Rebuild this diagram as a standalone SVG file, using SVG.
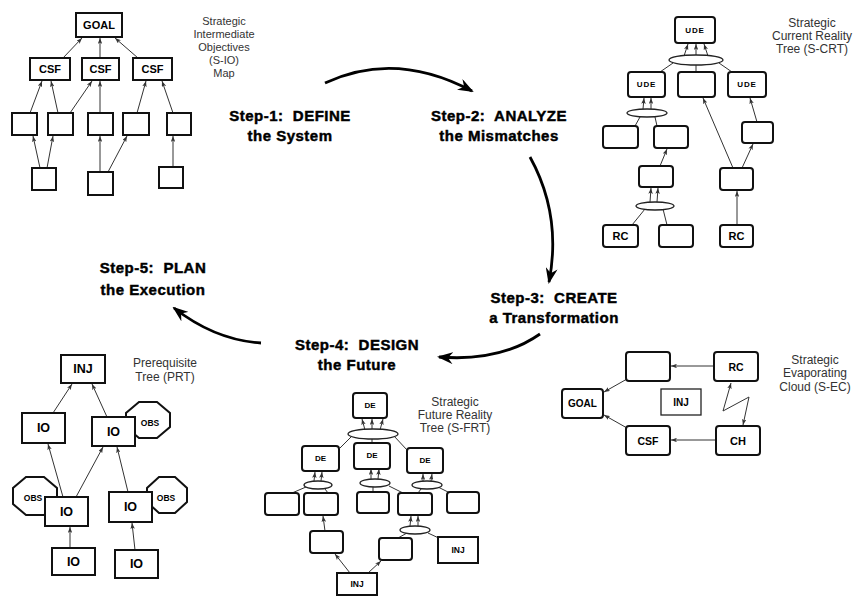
<svg xmlns="http://www.w3.org/2000/svg" width="862" height="597" viewBox="0 0 862 597">
<defs>
<style>
.bx{fill:#fff;stroke:#111;stroke-width:2}
.bt{fill:#fff;stroke:#222;stroke-width:1.3}
.el{fill:#fff;stroke:#222;stroke-width:1.3}
.ca{fill:none;stroke:#333;stroke-width:1;marker-end:url(#sm)}
.cl{fill:none;stroke:#333;stroke-width:1}
.big{fill:none;stroke:#000;stroke-width:2.8;marker-end:url(#bg)}
.st{font-family:"Liberation Sans",Arial,sans-serif;font-weight:bold;font-size:15px;letter-spacing:0.5px;fill:#000;stroke:#000;stroke-width:0.45px;text-anchor:middle;white-space:pre}
.ds{font-family:"Liberation Sans",Arial,sans-serif;font-size:12px;fill:#333;text-anchor:middle}
.lb{font-family:"Liberation Sans",Arial,sans-serif;font-weight:bold;fill:#000;text-anchor:middle;dominant-baseline:central}
</style>
<marker id="sm" viewBox="0 0 8 6" refX="8" refY="3" markerWidth="6" markerHeight="4.5" orient="auto" markerUnits="userSpaceOnUse"><path d="M0,0 L8,3 L0,6 L2,3 z" fill="#333"/></marker>
<marker id="sm2" viewBox="0 0 8 6" refX="8" refY="3" markerWidth="6" markerHeight="4.5" orient="auto-start-reverse" markerUnits="userSpaceOnUse"><path d="M0,0 L8,3 L0,6 L2,3 z" fill="#333"/></marker>
<marker id="bg" viewBox="0 0 16 12" refX="14" refY="6" markerWidth="16" markerHeight="12" orient="auto" markerUnits="userSpaceOnUse"><path d="M0,0 L16,6 L0,12 L5,6 z" fill="#000"/></marker>
</defs>
<rect width="862" height="597" fill="#fff"/>

<!-- Step arrows -->
<g id="cycle-arrows">
<path class="big" d="M325,83 Q395,50 472,91"/>
<path class="big" d="M530,157 Q562,215 549,282"/>
<path class="big" d="M540,334 Q500,362 439,357"/>
<path class="big" d="M261,343 Q215,340 174,308"/>
</g>

<!-- Step labels -->
<g id="step1"><text class="st" x="290" y="121">Step-1:  DEFINE</text><text class="st" x="290" y="141">the System</text></g>
<g id="step2"><text class="st" x="499" y="121">Step-2:  ANALYZE</text><text class="st" x="499" y="141">the Mismatches</text></g>
<g id="step3"><text class="st" x="554" y="303">Step-3:  CREATE</text><text class="st" x="554" y="323">a Transformation</text></g>
<g id="step4"><text class="st" x="357" y="350">Step-4:  DESIGN</text><text class="st" x="357" y="370">the Future</text></g>
<g id="step5"><text class="st" x="153" y="273">Step-5:  PLAN</text><text class="st" x="153" y="295">the Execution</text></g>

<!-- ===== S-IO Map ===== -->
<g id="sio-connectors">
<path class="ca" d="M63,58 L82,38"/>
<path class="ca" d="M100,58 L100,38"/>
<path class="ca" d="M138,58 L115,38"/>
<path class="ca" d="M30,113 L42,81"/>
<path class="ca" d="M58,113 L51,81"/>
<path class="ca" d="M70,113 L92,81"/>
<path class="ca" d="M100,113 L100,81"/>
<path class="ca" d="M137,113 L146,81"/>
<path class="ca" d="M173,113 L162,81"/>
<path class="ca" d="M40,168 L33,136"/>
<path class="ca" d="M47,168 L53,136"/>
<path class="ca" d="M100,172 L100,136"/>
<path class="ca" d="M108,172 L127,136"/>
<path class="ca" d="M173,167 L173,136"/>
</g>
<g id="sio-goal"><rect class="bx" x="76" y="13" width="46" height="24"/><text class="lb" x="99" y="25" font-size="11">GOAL</text></g>
<g id="sio-csf1"><rect class="bx" x="30" y="58" width="40" height="22"/><text class="lb" x="50" y="69" font-size="11">CSF</text></g>
<g id="sio-csf2"><rect class="bx" x="82" y="58" width="37" height="22"/><text class="lb" x="100.5" y="69" font-size="11">CSF</text></g>
<g id="sio-csf3"><rect class="bx" x="133" y="58" width="39" height="22"/><text class="lb" x="152.5" y="69" font-size="11">CSF</text></g>
<g id="sio-m1"><rect class="bx" x="12" y="113" width="25" height="22"/></g>
<g id="sio-m2"><rect class="bx" x="48" y="113" width="25" height="22"/></g>
<g id="sio-m3"><rect class="bx" x="88" y="113" width="25" height="22"/></g>
<g id="sio-m4"><rect class="bx" x="123" y="113" width="26" height="22"/></g>
<g id="sio-m5"><rect class="bx" x="167" y="113" width="24" height="22"/></g>
<g id="sio-b1"><rect class="bx" x="32" y="168" width="24" height="22"/></g>
<g id="sio-b2"><rect class="bx" x="88" y="172" width="25" height="23"/></g>
<g id="sio-b3"><rect class="bx" x="159" y="167" width="24" height="21"/></g>
<g id="sio-title" font-size="11"><text class="ds" x="224" y="25" style="font-size:11px">Strategic</text><text class="ds" x="224" y="38" style="font-size:11px">Intermediate</text><text class="ds" x="224" y="51" style="font-size:11px">Objectives</text><text class="ds" x="224" y="64" style="font-size:11px">(S-IO)</text><text class="ds" x="224" y="77" style="font-size:11px">Map</text></g>

<!-- ===== S-CRT ===== -->
<g id="scrt-connectors">
<path class="ca" d="M684,56 L688,44"/>
<path class="ca" d="M696,55 L696,44"/>
<path class="ca" d="M708,56 L704,44"/>
<path class="cl" d="M660,72 L673,63"/>
<path class="cl" d="M696,72 L696,65"/>
<path class="cl" d="M732,72 L719,63"/>
<path class="ca" d="M643,109 L644,98"/>
<path class="ca" d="M651,109 L651,98"/>
<path class="cl" d="M635,126 L640,117"/>
<path class="cl" d="M657,126 L655,117"/>
<path class="ca" d="M660,166 L667,149"/>
<path class="ca" d="M650,202 L651,188"/>
<path class="ca" d="M657,202 L658,188"/>
<path class="cl" d="M632,225 L645,209"/>
<path class="cl" d="M667,225 L663,209"/>
<path class="ca" d="M737,225 L737,191"/>
<path class="ca" d="M742,168 L753,144"/>
<path class="ca" d="M733,168 L703,98"/>
<path class="ca" d="M757,122 L750,98"/>
</g>
<g id="scrt-and1"><ellipse class="el" cx="696" cy="60" rx="27" ry="5"/></g>
<g id="scrt-and2"><ellipse class="el" cx="647" cy="113" rx="20" ry="4"/></g>
<g id="scrt-and3"><ellipse class="el" cx="655" cy="206" rx="19" ry="4"/></g>
<g id="scrt-ude-top"><rect class="bx" x="675" y="17" width="40" height="26" rx="3"/><text class="lb" x="695" y="30" font-size="8" letter-spacing="0.8">UDE</text></g>
<g id="scrt-ude-l"><rect class="bx" x="628" y="72" width="37" height="25" rx="3"/><text class="lb" x="646.5" y="84.5" font-size="8" letter-spacing="0.8">UDE</text></g>
<g id="scrt-mid"><rect class="bx" x="678" y="72" width="37" height="25" rx="3"/></g>
<g id="scrt-ude-r"><rect class="bx" x="728" y="72" width="38" height="25" rx="3"/><text class="lb" x="747" y="84.5" font-size="8" letter-spacing="0.8">UDE</text></g>
<g id="scrt-r3a"><rect class="bx" x="603" y="126" width="35" height="22" rx="3"/></g>
<g id="scrt-r3b"><rect class="bx" x="654" y="126" width="34" height="22" rx="3"/></g>
<g id="scrt-r3c"><rect class="bx" x="742" y="122" width="31" height="21" rx="3"/></g>
<g id="scrt-r4a"><rect class="bx" x="639" y="166" width="34" height="21" rx="3"/></g>
<g id="scrt-r4b"><rect class="bx" x="720" y="168" width="33" height="22" rx="3"/></g>
<g id="scrt-rc1"><rect class="bx" x="603" y="225" width="35" height="22" rx="3"/><text class="lb" x="620.5" y="236" font-size="11">RC</text></g>
<g id="scrt-r5"><rect class="bx" x="659" y="225" width="34" height="22" rx="3"/></g>
<g id="scrt-rc2"><rect class="bx" x="720" y="225" width="33" height="22" rx="3"/><text class="lb" x="736.5" y="236" font-size="11">RC</text></g>
<g id="scrt-title"><text class="ds" x="812" y="27">Strategic</text><text class="ds" x="812" y="40">Current Reality</text><text class="ds" x="812" y="53">Tree (S-CRT)</text></g>

<!-- ===== PRT ===== -->
<g id="prt-connectors">
<path class="ca" d="M53,413 L72,384"/>
<path class="ca" d="M107,417 L92,384"/>
<path class="ca" d="M63,497 L48,444"/>
<path class="ca" d="M76,497 L103,447"/>
<path class="ca" d="M128,492 L117,447"/>
<path class="ca" d="M70,548 L70,527"/>
<path class="ca" d="M135,550 L132,523"/>
</g>
<g id="prt-obs1"><polygon class="bx" points="139,402 157,402 170,413 170,427 157,438 139,438 126,427 126,413"/><text class="lb" x="150" y="423" font-size="8.5">OBS</text></g>
<g id="prt-obs2"><polygon class="bx" points="26,477 44,477 57,488 57,504 44,515 26,515 13,504 13,488"/></g>
<g id="prt-obs3"><polygon class="bx" points="159,477 175,477 187,488 187,502 175,513 159,513 147,502 147,488"/><text class="lb" x="166" y="498" font-size="8.5">OBS</text></g>
<g id="prt-inj"><rect class="bx" x="61" y="355" width="44" height="28"/><text class="lb" x="83" y="369" font-size="12.5">INJ</text></g>
<g id="prt-io1"><rect class="bx" x="22" y="413" width="43" height="30"/><text class="lb" x="43.5" y="428" font-size="12.5">IO</text></g>
<g id="prt-io2"><rect class="bx" x="92" y="417" width="43" height="29"/><text class="lb" x="113.5" y="431.5" font-size="12.5">IO</text></g>
<g id="prt-io3"><rect class="bx" x="45" y="497" width="43" height="29"/><text class="lb" x="66.5" y="511.5" font-size="12.5">IO</text></g>
<text class="lb" x="33" y="498" font-size="8.5">OBS</text>
<g id="prt-io4"><rect class="bx" x="109" y="492" width="43" height="30"/><text class="lb" x="130.5" y="507" font-size="12.5">IO</text></g>
<g id="prt-io5"><rect class="bx" x="52" y="548" width="43" height="27"/><text class="lb" x="73.5" y="561.5" font-size="12.5">IO</text></g>
<g id="prt-io6"><rect class="bx" x="115" y="550" width="43" height="28"/><text class="lb" x="136.5" y="564" font-size="12.5">IO</text></g>
<g id="prt-title"><text class="ds" x="165" y="367">Prerequisite</text><text class="ds" x="165" y="381">Tree (PRT)</text></g>

<!-- ===== S-FRT ===== -->
<g id="sfrt-connectors">
<path class="ca" d="M365,430 L362,419"/>
<path class="ca" d="M372,429 L372,419"/>
<path class="ca" d="M380,430 L383,419"/>
<path class="cl" d="M340,448 L352,436"/>
<path class="cl" d="M372,443 L372,439"/>
<path class="cl" d="M407,450 L394,436"/>
<path class="ca" d="M314,481 L315,472"/>
<path class="ca" d="M321,481 L322,472"/>
<path class="ca" d="M371,479 L371,469"/>
<path class="ca" d="M378,479 L379,469"/>
<path class="ca" d="M423,481 L423,474"/>
<path class="ca" d="M431,481 L432,474"/>
<path class="cl" d="M292,493 L306,487"/>
<path class="cl" d="M328,493 L325,489"/>
<path class="cl" d="M373,492 L373,487"/>
<path class="cl" d="M403,493 L389,486"/>
<path class="cl" d="M418,493 L421,489"/>
<path class="cl" d="M450,493 L438,487"/>
<path class="ca" d="M325,531 L323,516"/>
<path class="ca" d="M410,526 L411,516"/>
<path class="ca" d="M418,526 L418,516"/>
<path class="cl" d="M398,538 L407,533"/>
<path class="cl" d="M443,540 L428,533"/>
<path class="ca" d="M350,573 L335,554"/>
<path class="ca" d="M368,573 L381,561"/>
</g>
<g id="sfrt-and1"><ellipse class="el" cx="373" cy="434" rx="25" ry="5"/></g>
<g id="sfrt-and2"><ellipse class="el" cx="318" cy="485" rx="14" ry="4"/></g>
<g id="sfrt-and3"><ellipse class="el" cx="375" cy="483" rx="15" ry="4"/></g>
<g id="sfrt-and4"><ellipse class="el" cx="427" cy="485" rx="15" ry="4"/></g>
<g id="sfrt-and5"><ellipse class="el" cx="415" cy="530" rx="15" ry="4"/></g>
<g id="sfrt-de-top"><rect class="bx" x="353" y="393" width="34" height="25" rx="3"/><text class="lb" x="370" y="405.5" font-size="8">DE</text></g>
<g id="sfrt-de-l"><rect class="bx" x="302" y="446" width="37" height="25" rx="3"/><text class="lb" x="320.5" y="458.5" font-size="8">DE</text></g>
<g id="sfrt-de-m"><rect class="bx" x="354" y="443" width="36" height="26" rx="3"/><text class="lb" x="372" y="455" font-size="8">DE</text></g>
<g id="sfrt-de-r"><rect class="bx" x="407" y="448" width="36" height="25" rx="3"/><text class="lb" x="425" y="460.5" font-size="8">DE</text></g>
<g id="sfrt-b1"><rect class="bx" x="265" y="493" width="34" height="22" rx="3"/></g>
<g id="sfrt-b2"><rect class="bx" x="304" y="493" width="34" height="22" rx="3"/></g>
<g id="sfrt-b3"><rect class="bx" x="357" y="492" width="32" height="21" rx="3"/></g>
<g id="sfrt-b4"><rect class="bx" x="398" y="493" width="34" height="22" rx="3"/></g>
<g id="sfrt-b5"><rect class="bx" x="447" y="492" width="32" height="21" rx="3"/></g>
<g id="sfrt-b6"><rect class="bx" x="310" y="531" width="33" height="22" rx="3"/></g>
<g id="sfrt-b7"><rect class="bx" x="379" y="538" width="33" height="22" rx="3"/></g>
<g id="sfrt-inj-r"><rect class="bx" x="438" y="537" width="40" height="26"/><text class="lb" x="458" y="550" font-size="8.5">INJ</text></g>
<g id="sfrt-inj-b"><rect class="bx" x="337" y="573" width="40" height="22"/><text class="lb" x="357" y="584" font-size="8.5">INJ</text></g>
<g id="sfrt-title"><text class="ds" x="455" y="406">Strategic</text><text class="ds" x="455" y="419">Future Reality</text><text class="ds" x="455" y="432">Tree (S-FRT)</text></g>

<!-- ===== S-EC ===== -->
<g id="sec-connectors">
<path class="ca" d="M714,366 L671,366"/>
<path class="ca" d="M716,440 L671,440"/>
<path class="ca" d="M627,379 L604,392"/>
<path class="ca" d="M627,428 L604,415"/>
<path fill="none" stroke="#333" stroke-width="1" marker-start="url(#sm2)" marker-end="url(#sm2)" d="M731,383 L723,411 L749,397 L743,425"/>
</g>
<g id="sec-empty"><rect class="bx" x="626" y="352" width="44" height="29" rx="3"/></g>
<g id="sec-rc"><rect class="bx" x="714" y="352" width="44" height="29" rx="3"/><text class="lb" x="736" y="366.5" font-size="10.5">RC</text></g>
<g id="sec-goal"><rect class="bx" x="562" y="389" width="41" height="29" rx="3"/><text class="lb" x="582.5" y="403.5" font-size="10">GOAL</text></g>
<g id="sec-inj"><rect class="bt" x="661" y="389" width="40" height="26"/><text class="lb" x="681" y="402" font-size="10">INJ</text></g>
<g id="sec-csf"><rect class="bx" x="626" y="426" width="44" height="29" rx="3"/><text class="lb" x="648" y="440.5" font-size="10.5">CSF</text></g>
<g id="sec-ch"><rect class="bx" x="716" y="426" width="44" height="29" rx="3"/><text class="lb" x="738" y="440.5" font-size="11">CH</text></g>
<g id="sec-title"><text class="ds" x="815" y="364">Strategic</text><text class="ds" x="815" y="377">Evaporating</text><text class="ds" x="815" y="391">Cloud (S-EC)</text></g>
</svg>
